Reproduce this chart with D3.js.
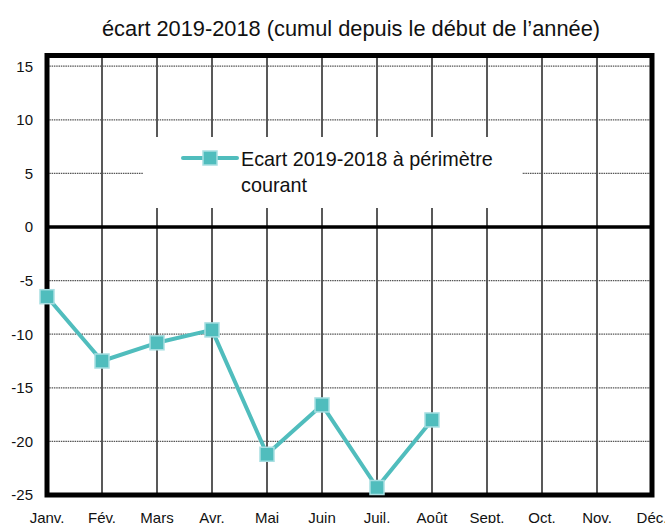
<!DOCTYPE html>
<html><head><meta charset="utf-8">
<script src="https://cdn.jsdelivr.net/npm/d3@7/dist/d3.min.js"></script>
<style>body{margin:0;background:#fff;}svg{display:block;font-family:"Liberation Sans",Arial,sans-serif;}</style>
</head><body>
<script>
const months = ["Janv.","Fév.","Mars","Avr.","Mai","Juin","Juil.","Août","Sept.","Oct.","Nov.","Déc."];
const seriesName = "Ecart 2019-2018 à périmètre courant";
const values = [-6.5, -12.5, -10.8, -9.6, -21.2, -16.6, -24.3, -18.0];
const yTicks = [15, 10, 5, 0, -5, -10, -15, -20, -25];
const title = "écart 2019-2018 (cumul depuis le début de l’année)";

const W = 665, H = 523;
const svg = d3.select("body").append("svg").attr("width", W).attr("height", H);

const x = d3.scalePoint().domain(months).range([47, 652]);
const y = d3.scaleLinear().domain([-25, 16]).range([495, 55.5]);

const teal = "#50bdbd";

// title
svg.append("text").attr("x", 351).attr("y", 36).attr("text-anchor", "middle")
  .attr("font-size", 21.8).attr("fill", "#111").text(title);

// vertical gridlines
const g = svg.append("g");
g.selectAll(".vg").data(months.slice(1, 11)).enter().append("line")
  .attr("x1", d => x(d)).attr("x2", d => x(d)).attr("y1", y(16)).attr("y2", y(-25))
  .attr("stroke", "#222").attr("stroke-width", 1.5);
// horizontal dotted gridlines
g.selectAll(".hg").data(yTicks.filter(v => v !== 0 && v !== -25)).enter().append("line")
  .attr("x1", x(months[0])).attr("x2", x(months[11])).attr("y1", d => y(d)).attr("y2", d => y(d))
  .attr("stroke", "#555").attr("stroke-width", 1.3).attr("stroke-dasharray", "1.5,0.8");

// legend background box
svg.append("rect").attr("x", 143).attr("y", 137).attr("width", 379).attr("height", 71).attr("fill", "#fff");

// zero line
svg.append("line").attr("x1", x(months[0])).attr("x2", x(months[11]))
  .attr("y1", y(0)).attr("y2", y(0)).attr("stroke", "#000").attr("stroke-width", 3.5);

// frame
svg.append("rect").attr("x", x(months[0])).attr("y", y(16))
  .attr("width", x(months[11]) - x(months[0])).attr("height", y(-25) - y(16))
  .attr("fill", "none").attr("stroke", "#000").attr("stroke-width", 5);

// y tick labels
svg.selectAll(".yt").data(yTicks).enter().append("text")
  .attr("x", 33).attr("y", d => y(d)).attr("dy", "0.36em").attr("text-anchor", "end")
  .attr("font-size", 15).attr("fill", "#111").text(d => d);

// x labels
svg.selectAll(".xt").data(months).enter().append("text")
  .attr("x", d => x(d)).attr("y", 523).attr("text-anchor", "middle")
  .attr("font-size", 15).attr("fill", "#111").text(d => d);

// series
const pts = values.map((v, i) => [x(months[i]), y(v)]);
svg.append("path").attr("d", d3.line()(pts)).attr("fill", "none")
  .attr("stroke", teal).attr("stroke-width", 4).attr("stroke-linejoin", "round");
svg.selectAll(".mk").data(pts).enter().append("rect")
  .attr("x", d => d[0] - 7).attr("y", d => d[1] - 7).attr("width", 14).attr("height", 14)
  .attr("fill", teal).attr("stroke", "#a8dfe2").attr("stroke-width", 1.5);

// legend
svg.append("line").attr("x1", 183).attr("x2", 237).attr("y1", 158).attr("y2", 158)
  .attr("stroke", teal).attr("stroke-width", 4).attr("stroke-linecap", "round");
svg.append("rect").attr("x", 203).attr("y", 151).attr("width", 14).attr("height", 14)
  .attr("fill", teal).attr("stroke", "#a8dfe2").attr("stroke-width", 1.5);
const words = seriesName.split(" ");
const lt = svg.append("text").attr("x", 241).attr("font-size", 19.8).attr("fill", "#111");
lt.append("tspan").attr("x", 241).attr("y", 166).text(words.slice(0, 4).join(" "));
lt.append("tspan").attr("x", 241).attr("y", 192).text(words.slice(4).join(" "));
</script>
</body></html>
